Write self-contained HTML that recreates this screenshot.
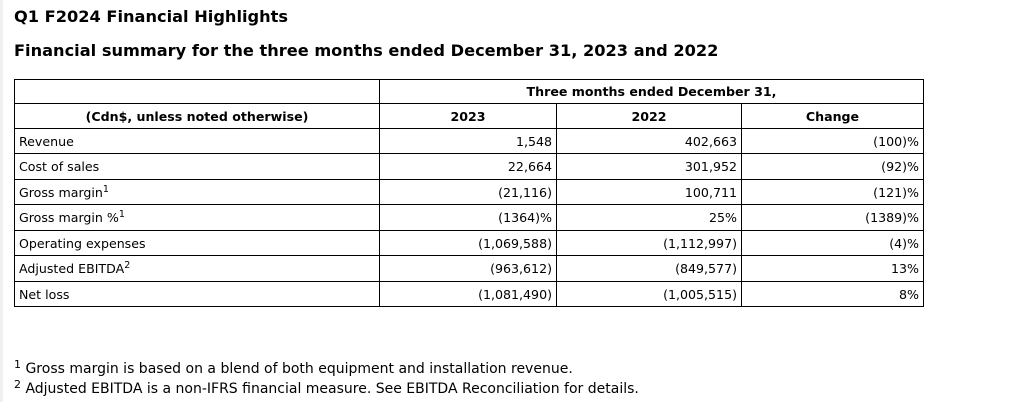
<!DOCTYPE html>
<html><head><meta charset="utf-8"><style>
body{margin:0;width:1011px;height:402px;background:#fff;font-family:"DejaVu Sans","Liberation Sans",sans-serif;color:#000;position:relative;overflow:hidden}
.bar{position:absolute;left:0;top:0;width:3px;height:402px;background:#f0f0f0}
.t1{position:absolute;left:14px;top:7px;font-size:16.2px;font-weight:bold}
.t2{position:absolute;left:14px;top:41px;font-size:16.2px;font-weight:bold}
table{position:absolute;left:14px;top:79px;border-collapse:collapse;font-size:12.6px;table-layout:fixed}
td{border:1px solid #000;padding:0 4px;height:24px;box-sizing:border-box;white-space:nowrap}
td.r{text-align:right}
.h td{font-weight:bold;text-align:center}
sup{font-size:9.5px;vertical-align:5px;line-height:0}
.fn{position:absolute;left:14px;font-size:14px}
.fn sup{font-size:11px}
</style></head><body>
<div class="bar"></div>
<div class="t1">Q1 F2024 Financial Highlights</div>
<div class="t2">Financial summary for the three months ended December 31, 2023 and 2022</div>
<table>
<colgroup><col style="width:365px"><col style="width:177px"><col style="width:185px"><col style="width:182px"></colgroup>
<tr class="h" style="height:24px"><td></td><td colspan="3">Three months ended December 31,</td></tr>
<tr class="h" style="height:25px"><td>(Cdn$, unless noted otherwise)</td><td>2023</td><td>2022</td><td>Change</td></tr>
<tr style="height:25px"><td>Revenue</td><td class="r">1,548</td><td class="r">402,663</td><td class="r">(100)%</td></tr>
<tr style="height:26px"><td>Cost of sales</td><td class="r">22,664</td><td class="r">301,952</td><td class="r">(92)%</td></tr>
<tr style="height:25px"><td>Gross margin<sup>1</sup></td><td class="r">(21,116)</td><td class="r">100,711</td><td class="r">(121)%</td></tr>
<tr style="height:26px"><td>Gross margin %<sup>1</sup></td><td class="r">(1364)%</td><td class="r">25%</td><td class="r">(1389)%</td></tr>
<tr style="height:25px"><td>Operating expenses</td><td class="r">(1,069,588)</td><td class="r">(1,112,997)</td><td class="r">(4)%</td></tr>
<tr style="height:26px"><td>Adjusted EBITDA<sup>2</sup></td><td class="r">(963,612)</td><td class="r">(849,577)</td><td class="r">13%</td></tr>
<tr style="height:25px"><td>Net loss</td><td class="r">(1,081,490)</td><td class="r">(1,005,515)</td><td class="r">8%</td></tr>
</table>
<div class="fn" style="top:361px"><sup>1</sup> Gross margin is based on a blend of both equipment and installation revenue.</div>
<div class="fn" style="top:381px"><sup>2</sup> Adjusted EBITDA is a non-IFRS financial measure. See EBITDA Reconciliation for details.</div>
</body></html>
